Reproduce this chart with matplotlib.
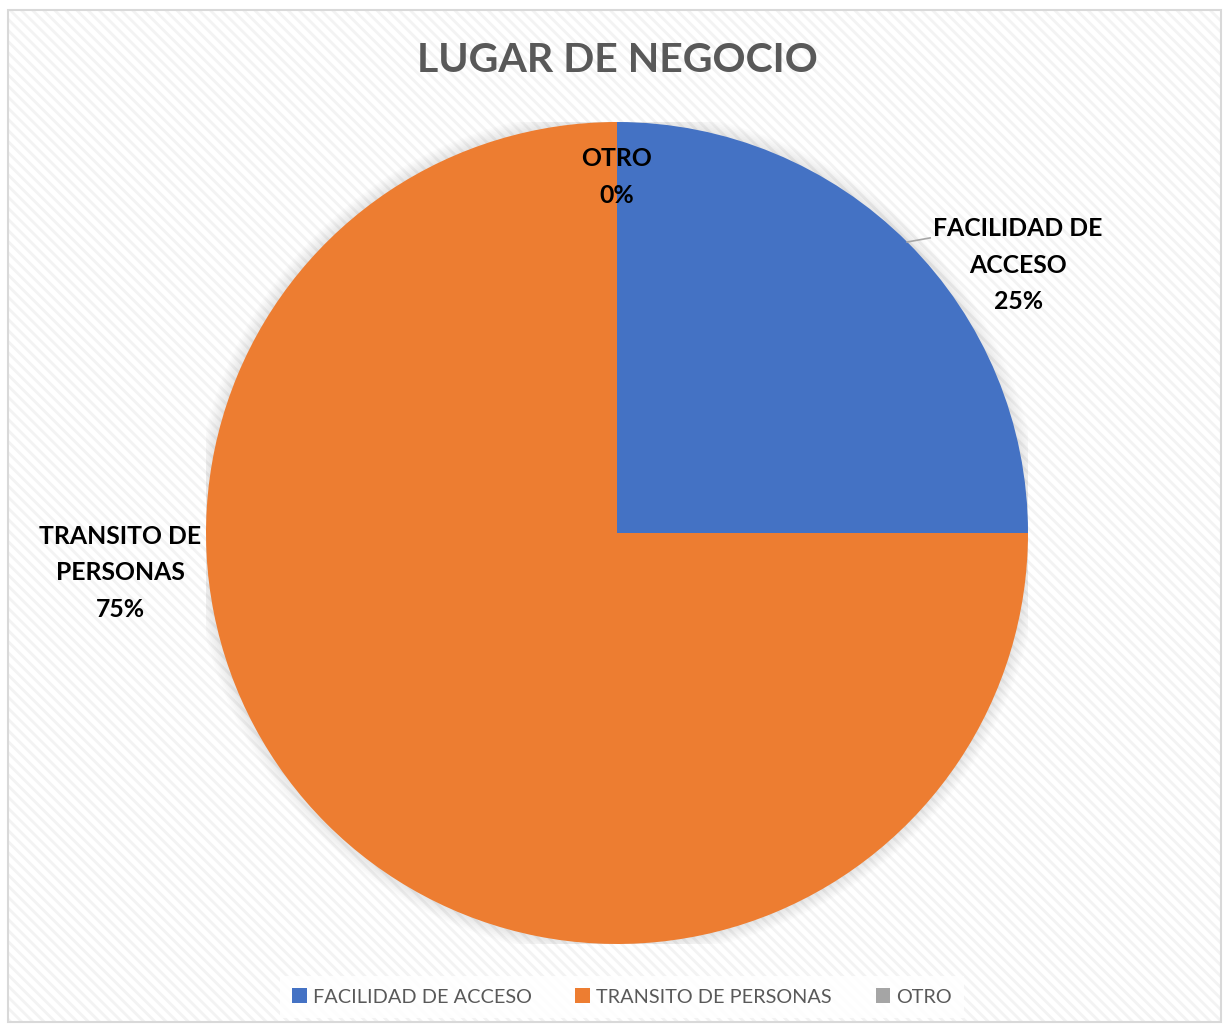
import matplotlib
matplotlib.use('Agg')
import matplotlib.pyplot as plt
from matplotlib.patches import Rectangle, Circle

# Datos del gráfico
categorias = ['FACILIDAD DE ACCESO', 'TRANSITO DE PERSONAS', 'OTRO']
etiquetas = ['FACILIDAD DE\nACCESO', 'TRANSITO DE\nPERSONAS', 'OTRO']
valores = [25, 75, 0]
colores = ['#4472C4', '#ED7D31', '#A5A5A5']

plt.rcParams['font.family'] = ['Lato', 'DejaVu Sans']
plt.rcParams['hatch.linewidth'] = 2.0

W, H = 1226, 1027
fig = plt.figure(figsize=(W / 100, H / 100), dpi=100)
fig.patch.set_facecolor('white')

# Fondo con rayas diagonales suaves + borde
fondo = Rectangle((8 / W, 5 / H), 1213 / W, 1012 / H, transform=fig.transFigure,
                  facecolor='white', edgecolor='#f3f3f3', hatch='\\\\\\', lw=0, zorder=-3)
borde = Rectangle((8 / W, 5 / H), 1213 / W, 1012 / H, transform=fig.transFigure,
                  facecolor='none', edgecolor='#d9d9d9', lw=1.5, zorder=-2)
fig.patches.extend([fondo, borde])

# Ejes del pastel: centro (617, 533), radio 411 px
r_px = 411
ax = fig.add_axes([(617 - r_px) / W, (H - 533 - r_px) / H, 2 * r_px / W, 2 * r_px / H])
ax.patch.set_visible(False)

# sombra suave alrededor del pastel
for k in range(8):
    ax.add_patch(Circle((0, 0.0), 1.0 + 0.004 * (k + 1), color='#000000',
                        alpha=0.011, lw=0, zorder=0))

wedges, _ = ax.pie(valores, colors=colores, startangle=90, counterclock=False,
                   wedgeprops=dict(linewidth=0), radius=1.0)
for w in wedges:
    w.set_zorder(2)

ax.set_xlim(-1, 1)
ax.set_ylim(-1, 1)
ax.set_aspect('equal')
ax.axis('off')

total = sum(valores)
pos_etiquetas = [(0.976, 0.652), (-1.209, -0.097), (0.0, 0.866)]
for etq, v, (x, y) in zip(etiquetas, valores, pos_etiquetas):
    ax.text(x, y, f"{etq}\n{v / total * 100:.0f}%", ha='center', va='center',
            fontsize=17.8, fontweight='bold', color='black', linespacing=1.72, zorder=5)

# línea guía de FACILIDAD DE ACCESO
ax.plot([0.706, 0.762], [0.708, 0.718], color='#a6a6a6', lw=1.2, zorder=4,
        clip_on=False)

fig.text(617 / W, 1 - 60 / H, 'LUGAR DE NEGOCIO', ha='center', va='center',
         fontsize=29.5, fontweight='bold', color='#595959')

handles = [Rectangle((0, 0), 1, 1, facecolor=c, lw=0) for c in colores]
leg = fig.legend(handles, categorias, loc='center', bbox_to_anchor=(622 / W, 1 - 997 / H),
                 ncol=3, frameon=True, fancybox=False, facecolor='white', edgecolor='none',
                 fontsize=14.3, labelcolor='#595959', handlelength=0.75, handleheight=0.75,
                 handletextpad=0.3, columnspacing=2.2, borderpad=0.6)
leg.get_frame().set_alpha(0.85)

fig.savefig('out.png', dpi=100)
